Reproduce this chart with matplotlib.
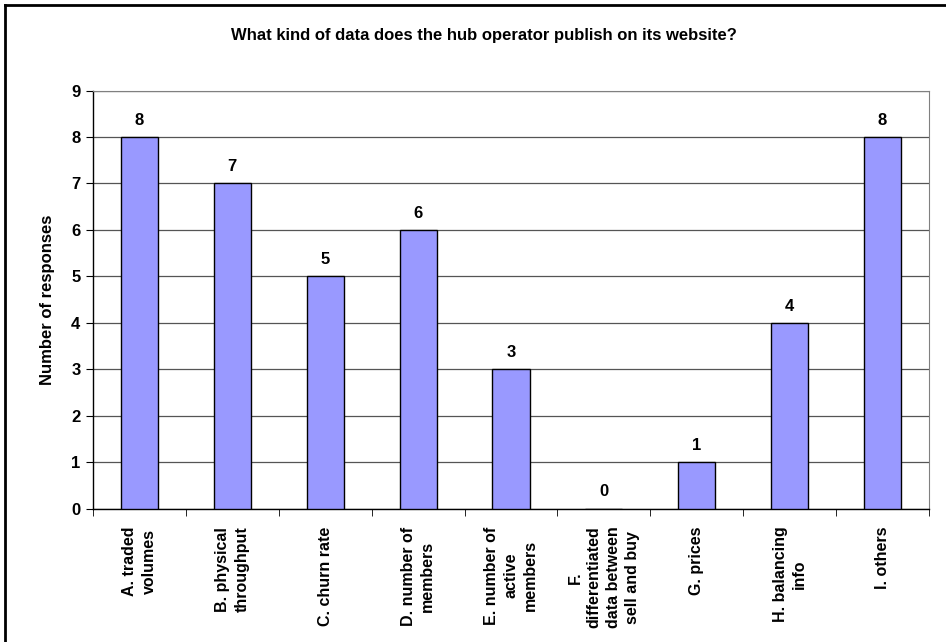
import numpy as np
import matplotlib
matplotlib.use("Agg")
import matplotlib.pyplot as plt
from matplotlib.lines import Line2D

plt.rcParams['font.family'] = ['Liberation Sans', 'DejaVu Sans']
plt.rcParams['font.weight'] = 'bold'

# Data
categories = [
    "A. traded\nvolumes",
    "B. physical\nthroughput",
    "C. churn rate",
    "D. number of\nmembers",
    "E. number of\nactive\nmembers",
    "F.\ndifferentiated\ndata between\nsell and buy",
    "G. prices",
    "H. balancing\ninfo",
    "I. others",
]
responses = [8, 7, 5, 6, 3, 0, 1, 4, 8]
y_ticks = list(range(0, 10))

title = "What kind of data does the hub operator publish on its website?"

fig = plt.figure(figsize=(9.46, 6.42), dpi=100)
ax = fig.add_axes([0.0983, 0.2079, 0.8837, 0.6511])

x = np.arange(len(categories))
ax.bar(x, responses, width=0.4, color='#9999FF', edgecolor='black', linewidth=1.0, zorder=3)

# value labels, 12 pt above each bar top
for xi, v in zip(x, responses):
    ax.annotate(str(v), (xi, v), xytext=(0, 12), textcoords='offset points',
                ha='center', va='center', fontsize=12, fontweight='bold')

ax.set_xlim(-0.5, len(categories) - 0.5)
ax.set_ylim(0, 9)
ax.set_yticks(y_ticks)
ax.set_yticklabels([str(t) for t in y_ticks], fontsize=12, fontweight='bold')
ax.yaxis.grid(True, color='#555555', linewidth=0.9, zorder=0)
ax.set_axisbelow(True)

# category labels centred, tick marks at boundaries
ax.set_xticks(x)
ax.set_xticklabels(categories, rotation=90, ha='center', va='top',
                   multialignment='center', fontsize=11.5, fontweight='bold',
                   linespacing=1.35)
ax.tick_params(axis='x', length=0, pad=13)
ax.set_xticks(np.arange(-0.5, len(categories) + 0.5, 1), minor=True)
ax.tick_params(axis='x', which='minor', length=5, direction='out', color='black')
ax.tick_params(axis='y', length=5, direction='out', pad=4)

for side in ['top', 'right']:
    ax.spines[side].set_color('#808080')
for side in ['left', 'bottom']:
    ax.spines[side].set_color('black')
    ax.spines[side].set_linewidth(1.0)

ax.set_ylabel("Number of responses", fontsize=12, fontweight='bold', labelpad=12)
fig.text(0.5116, 0.944, title, ha='center', va='center', fontsize=12, fontweight='bold')

# chart border (only top and left visible in the cropped original)
fig.add_artist(Line2D([5 / 946, 5 / 946], [0, 1 - 5 / 642], transform=fig.transFigure,
                      color='black', linewidth=2))
fig.add_artist(Line2D([5 / 946, 1], [1 - 5 / 642, 1 - 5 / 642], transform=fig.transFigure,
                      color='black', linewidth=2))

fig.savefig("out.png", dpi=100)
